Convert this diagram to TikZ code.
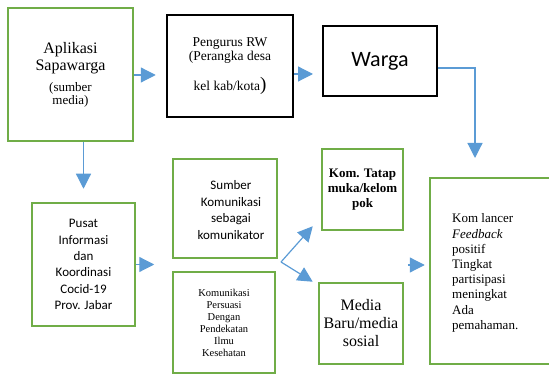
\documentclass[tikz,border=0pt]{standalone}
\usepackage{fontspec}
\setmainfont{Liberation Serif}
\newfontfamily\carl{Carlito}
\usetikzlibrary{arrows.meta}
\definecolor{gline}{HTML}{70AD47}
\definecolor{bline}{HTML}{5B9BD5}
\begin{document}
\begin{tikzpicture}[x=1pt,y=-1pt,
  gbox/.style={draw=gline, line width=2.5pt, inner sep=0pt, align=center},
  kbox/.style={draw=black, line width=2.5pt, inner sep=0pt, align=center},
  txt/.style={inner sep=0pt},
  arr/.style={draw=bline, line width=1.2pt, -{Triangle[length=15pt,width=15pt]}}]
\useasboundingbox (0,0) rectangle (549,382);

% boxes
\node[gbox, minimum width=125pt, minimum height=133pt, font=\fontsize{16}{17.5}\selectfont] (apl) at (70.5,74.5)
  {Aplikasi\\Sapawarga\\[3pt]{\fontsize{13}{13}\selectfont (sumber}\\[-4.5pt]{\fontsize{13}{13}\selectfont media)}};
\node[kbox, minimum width=126pt, minimum height=102pt, font=\fontsize{13.5}{14}\selectfont] (rw) at (230,66)
  {Pengurus RW\\(Perangka desa\\[13pt]kel kab/kota{\fontsize{19}{19}\selectfont )}};
\node[kbox, line width=2pt, minimum width=114pt, minimum height=70pt, font=\carl\fontsize{22}{24}\selectfont] (warga) at (380,61) {Warga};
\node[gbox, minimum width=103pt, minimum height=123pt, font=\carl\fontsize{13}{16.4}\selectfont] (pusat) at (83.5,264.5)
  {Pusat\\Informasi\\dan\\Koordinasi\\Cocid-19\\Prov. Jabar};
\node[gbox, minimum width=104pt, minimum height=99pt] (sumber) at (225,208.5) {};
\node[txt, align=center, font=\carl\fontsize{13}{16.5}\selectfont] (sumbert) at (231,210)
  {Sumber\\Komunikasi\\sebagai\\komunikator};
\node[gbox, minimum width=102pt, minimum height=101pt, font=\fontsize{10.5}{12}\selectfont] (persuasi) at (224,322.5)
  {Komunikasi\\Persuasi\\Dengan\\Pendekatan\\Ilmu\\Kesehatan};
\node[gbox, minimum width=81pt, minimum height=81pt, font=\bfseries\fontsize{13}{15}\selectfont] (tatap) at (362.5,189.5)
  {Kom. Tatap\\muka/kelom\\pok};
\node[gbox, minimum width=84pt, minimum height=81pt, font=\fontsize{16}{18}\selectfont] (media) at (361,323.5)
  {Media\\Baru/media\\sosial};
\node[gbox, minimum width=121pt, minimum height=186pt] (fb) at (490.5,271) {};
\node[txt, anchor=west, align=left, font=\fontsize{13}{15.2}\selectfont] (fbt) at (452,273)
  {Kom lancer\\\textit{Feedback}\\positif\\Tingkat\\partisipasi\\meningkat\\Ada\\pemahaman.};

% connectors
\coordinate (fbin) at (475,158);
\coordinate (split) at (281,262);
\draw[arr] ([yshift=-0.5pt]apl.east) -- ([xshift=-10pt,yshift=-9pt]rw.west);
\draw[arr] ([yshift=-8pt]rw.east) -- ([xshift=-9pt,yshift=-13pt]warga.west);
\draw[arr] ([yshift=-7pt]warga.east) -| (fbin);
\draw[arr] (apl.south -| pusat.north) -- ([yshift=13pt]pusat.north);
\draw[arr] (pusat.east) -- ([xshift=18pt]pusat.east);
\draw[arr] (split) -- ([xshift=-8pt,yshift=5pt]tatap.south west);
\draw[arr] (split) -- ([xshift=-5pt]media.north west);
\draw[arr] ([xshift=-21pt,yshift=6pt]fb.west) -- ([xshift=-4pt,yshift=6pt]fb.west);
\end{tikzpicture}
\end{document}
